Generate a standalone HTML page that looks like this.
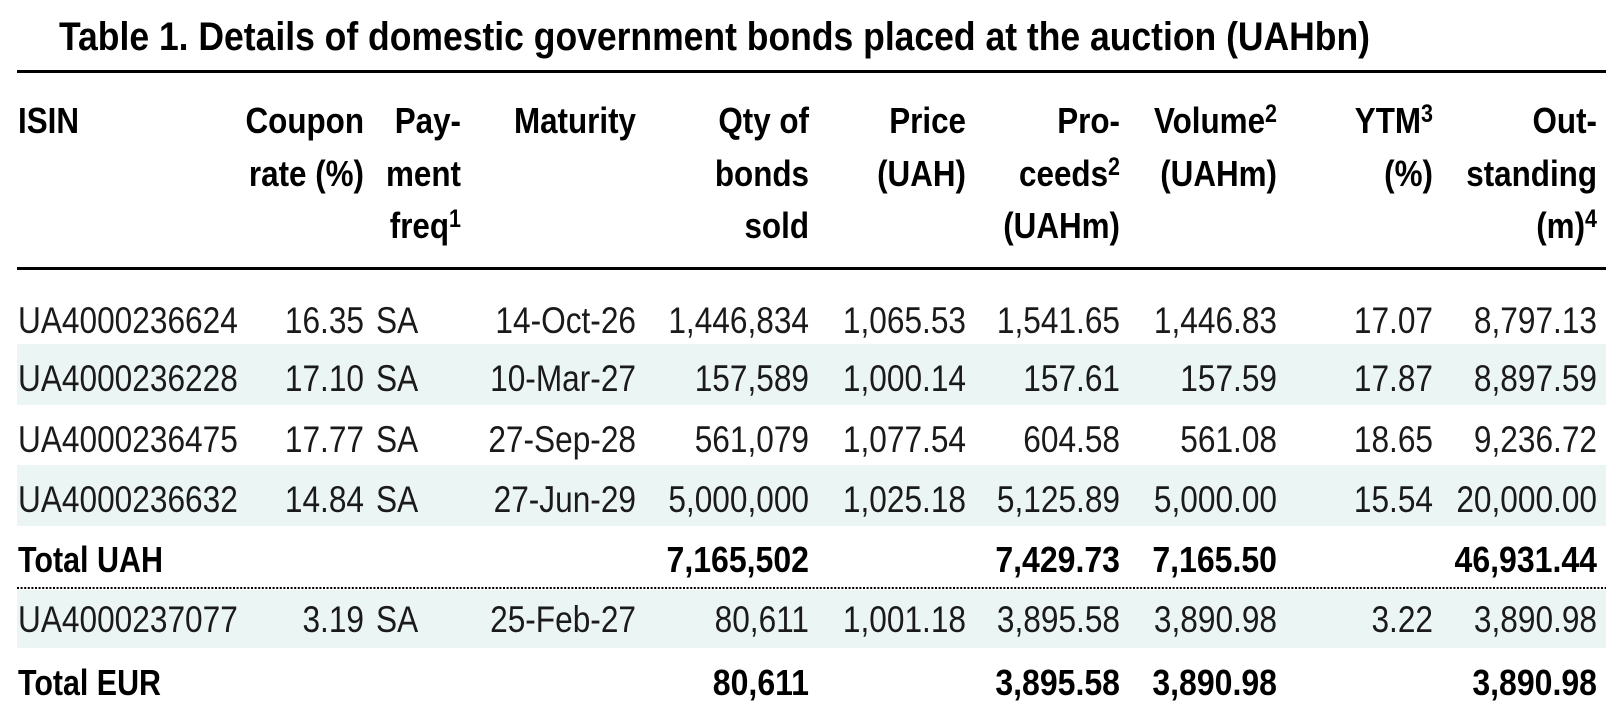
<!DOCTYPE html>
<html><head><meta charset="utf-8">
<style>
html,body{margin:0;padding:0;background:#fff;}
svg{display:block;}
text{font-family:"Liberation Sans",Arial,sans-serif;}
.t{font-size:40px;font-weight:bold;fill:#000;}
.h{font-size:36.5px;font-weight:bold;fill:#000;}
.d{font-size:37px;fill:#1a1a1a;}
.b{font-size:36px;font-weight:bold;fill:#000;}
</style></head>
<body>
<svg width="1622" height="714" viewBox="0 0 1622 714" xmlns="http://www.w3.org/2000/svg">
<rect x="0" y="0" width="1622" height="714" fill="#fff"/>
<!-- title -->
<text class="t" x="59" y="50" textLength="1311" lengthAdjust="spacingAndGlyphs">Table 1. Details of domestic government bonds placed at the auction (UAHbn)</text>
<!-- rules -->
<rect x="17" y="70" width="1589" height="3" fill="#000"/>
<rect x="17" y="267" width="1589" height="3" fill="#000"/>
<!-- shading -->
<rect x="17" y="344" width="1589" height="61" fill="#ebf5f3"/>
<rect x="17" y="465" width="1589" height="61" fill="#ebf5f3"/>
<rect x="17" y="590" width="1589" height="58" fill="#ebf5f3"/>
<line x1="17" y1="588" x2="1606" y2="588" stroke="#000" stroke-width="2" stroke-dasharray="2,1.6"/>

<!-- header -->
<g class="h">
<text transform="translate(18,133) scale(.86,1)">ISIN</text>
<text transform="translate(364,133) scale(.86,1)" text-anchor="end">Coupon</text>
<text transform="translate(364,186) scale(.86,1)" text-anchor="end">rate (%)</text>
<text transform="translate(461,133) scale(.86,1)" text-anchor="end">Pay-</text>
<text transform="translate(461,186) scale(.86,1)" text-anchor="end">ment</text>
<text transform="translate(461,238) scale(.86,1)" text-anchor="end">freq<tspan font-size="25" dy="-11">1</tspan></text>
<text transform="translate(636,133) scale(.86,1)" text-anchor="end">Maturity</text>
<text transform="translate(809,133) scale(.86,1)" text-anchor="end">Qty of</text>
<text transform="translate(809,186) scale(.86,1)" text-anchor="end">bonds</text>
<text transform="translate(809,238) scale(.86,1)" text-anchor="end">sold</text>
<text transform="translate(966,133) scale(.86,1)" text-anchor="end">Price</text>
<text transform="translate(966,186) scale(.86,1)" text-anchor="end">(UAH)</text>
<text transform="translate(1120,133) scale(.86,1)" text-anchor="end">Pro-</text>
<text transform="translate(1120,186) scale(.86,1)" text-anchor="end">ceeds<tspan font-size="25" dy="-11">2</tspan></text>
<text transform="translate(1120,238) scale(.86,1)" text-anchor="end">(UAHm)</text>
<text transform="translate(1277,133) scale(.86,1)" text-anchor="end">Volume<tspan font-size="25" dy="-11">2</tspan></text>
<text transform="translate(1277,186) scale(.86,1)" text-anchor="end">(UAHm)</text>
<text transform="translate(1433,133) scale(.86,1)" text-anchor="end">YTM<tspan font-size="25" dy="-11">3</tspan></text>
<text transform="translate(1433,186) scale(.86,1)" text-anchor="end">(%)</text>
<text transform="translate(1597,133) scale(.86,1)" text-anchor="end">Out-</text>
<text transform="translate(1597,186) scale(.86,1)" text-anchor="end">standing</text>
<text transform="translate(1597,238) scale(.86,1)" text-anchor="end">(m)<tspan font-size="25" dy="-11">4</tspan></text>
</g>

<!-- data rows -->
<g class="d">
<!-- row 1 -->
<text transform="translate(18,333) scale(.855,1)">UA4000236624</text>
<text transform="translate(364,333) scale(.855,1)" text-anchor="end">16.35</text>
<text transform="translate(376,333) scale(.855,1)">SA</text>
<text transform="translate(636,333) scale(.855,1)" text-anchor="end">14-Oct-26</text>
<text transform="translate(809,333) scale(.855,1)" text-anchor="end">1,446,834</text>
<text transform="translate(966,333) scale(.855,1)" text-anchor="end">1,065.53</text>
<text transform="translate(1120,333) scale(.855,1)" text-anchor="end">1,541.65</text>
<text transform="translate(1277,333) scale(.855,1)" text-anchor="end">1,446.83</text>
<text transform="translate(1433,333) scale(.855,1)" text-anchor="end">17.07</text>
<text transform="translate(1597,333) scale(.855,1)" text-anchor="end">8,797.13</text>
<!-- row 2 -->
<text transform="translate(18,391) scale(.855,1)">UA4000236228</text>
<text transform="translate(364,391) scale(.855,1)" text-anchor="end">17.10</text>
<text transform="translate(376,391) scale(.855,1)">SA</text>
<text transform="translate(636,391) scale(.855,1)" text-anchor="end">10-Mar-27</text>
<text transform="translate(809,391) scale(.855,1)" text-anchor="end">157,589</text>
<text transform="translate(966,391) scale(.855,1)" text-anchor="end">1,000.14</text>
<text transform="translate(1120,391) scale(.855,1)" text-anchor="end">157.61</text>
<text transform="translate(1277,391) scale(.855,1)" text-anchor="end">157.59</text>
<text transform="translate(1433,391) scale(.855,1)" text-anchor="end">17.87</text>
<text transform="translate(1597,391) scale(.855,1)" text-anchor="end">8,897.59</text>
<!-- row 3 -->
<text transform="translate(18,452) scale(.855,1)">UA4000236475</text>
<text transform="translate(364,452) scale(.855,1)" text-anchor="end">17.77</text>
<text transform="translate(376,452) scale(.855,1)">SA</text>
<text transform="translate(636,452) scale(.855,1)" text-anchor="end">27-Sep-28</text>
<text transform="translate(809,452) scale(.855,1)" text-anchor="end">561,079</text>
<text transform="translate(966,452) scale(.855,1)" text-anchor="end">1,077.54</text>
<text transform="translate(1120,452) scale(.855,1)" text-anchor="end">604.58</text>
<text transform="translate(1277,452) scale(.855,1)" text-anchor="end">561.08</text>
<text transform="translate(1433,452) scale(.855,1)" text-anchor="end">18.65</text>
<text transform="translate(1597,452) scale(.855,1)" text-anchor="end">9,236.72</text>
<!-- row 4 -->
<text transform="translate(18,512) scale(.855,1)">UA4000236632</text>
<text transform="translate(364,512) scale(.855,1)" text-anchor="end">14.84</text>
<text transform="translate(376,512) scale(.855,1)">SA</text>
<text transform="translate(636,512) scale(.855,1)" text-anchor="end">27-Jun-29</text>
<text transform="translate(809,512) scale(.855,1)" text-anchor="end">5,000,000</text>
<text transform="translate(966,512) scale(.855,1)" text-anchor="end">1,025.18</text>
<text transform="translate(1120,512) scale(.855,1)" text-anchor="end">5,125.89</text>
<text transform="translate(1277,512) scale(.855,1)" text-anchor="end">5,000.00</text>
<text transform="translate(1433,512) scale(.855,1)" text-anchor="end">15.54</text>
<text transform="translate(1597,512) scale(.855,1)" text-anchor="end">20,000.00</text>
<!-- EUR row -->
<text transform="translate(18,632) scale(.855,1)">UA4000237077</text>
<text transform="translate(364,632) scale(.855,1)" text-anchor="end">3.19</text>
<text transform="translate(376,632) scale(.855,1)">SA</text>
<text transform="translate(636,632) scale(.855,1)" text-anchor="end">25-Feb-27</text>
<text transform="translate(809,632) scale(.855,1)" text-anchor="end">80,611</text>
<text transform="translate(966,632) scale(.855,1)" text-anchor="end">1,001.18</text>
<text transform="translate(1120,632) scale(.855,1)" text-anchor="end">3,895.58</text>
<text transform="translate(1277,632) scale(.855,1)" text-anchor="end">3,890.98</text>
<text transform="translate(1433,632) scale(.855,1)" text-anchor="end">3.22</text>
<text transform="translate(1597,632) scale(.855,1)" text-anchor="end">3,890.98</text>
</g>

<!-- totals -->
<g class="b">
<text x="18" y="572" textLength="145" lengthAdjust="spacingAndGlyphs">Total UAH</text>
<text transform="translate(809,572) scale(.89,1)" text-anchor="end">7,165,502</text>
<text transform="translate(1120,572) scale(.89,1)" text-anchor="end">7,429.73</text>
<text transform="translate(1277,572) scale(.89,1)" text-anchor="end">7,165.50</text>
<text transform="translate(1597,572) scale(.89,1)" text-anchor="end">46,931.44</text>
<text x="18" y="695" textLength="143" lengthAdjust="spacingAndGlyphs">Total EUR</text>
<text transform="translate(809,695) scale(.89,1)" text-anchor="end">80,611</text>
<text transform="translate(1120,695) scale(.89,1)" text-anchor="end">3,895.58</text>
<text transform="translate(1277,695) scale(.89,1)" text-anchor="end">3,890.98</text>
<text transform="translate(1597,695) scale(.89,1)" text-anchor="end">3,890.98</text>
</g>
</svg>
</body></html>
